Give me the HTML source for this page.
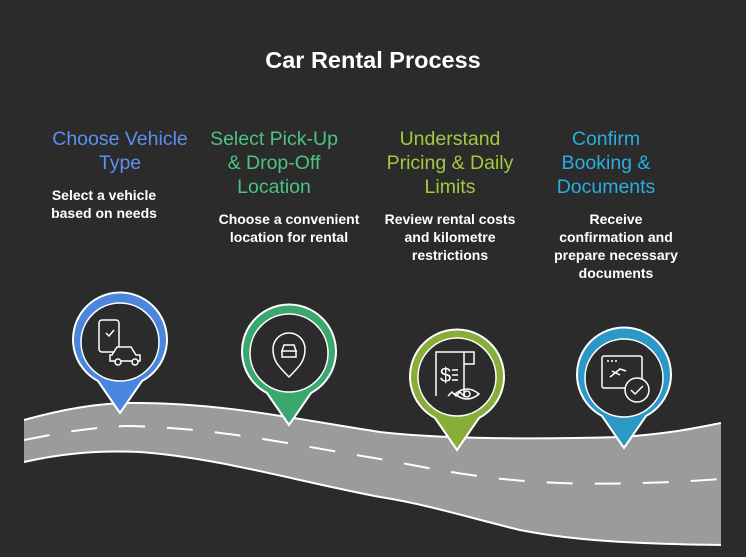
<!DOCTYPE html><html><head><style>
body{margin:0;background:#2b2b2b;width:746px;height:557px;overflow:hidden;font-family:"Liberation Sans",sans-serif}
.t{position:absolute;text-align:center;font-size:19.5px;line-height:24px}
.d{position:absolute;text-align:center;color:#fff;font-size:14px;font-weight:bold;line-height:18px}
</style></head><body>
<div style="position:absolute;left:0;top:47px;width:746px;text-align:center;color:#fff;font-size:23.5px;font-weight:bold">Car Rental Process</div>
<div class="t" style="left:30px;top:127px;width:180px;color:#5b8ff0">Choose Vehicle<br>Type</div>
<div class="d" style="left:34px;top:186px;width:140px">Select a vehicle<br>based on needs</div>
<div class="t" style="left:199px;top:127px;width:150px;color:#4cc381">Select Pick-Up<br>&amp; Drop-Off<br>Location</div>
<div class="d" style="left:204px;top:210px;width:170px">Choose a convenient<br>location for rental</div>
<div class="t" style="left:370px;top:127px;width:160px;color:#a4c840">Understand<br>Pricing &amp; Daily<br>Limits</div>
<div class="d" style="left:370px;top:210px;width:160px">Review rental costs<br>and kilometre<br>restrictions</div>
<div class="t" style="left:531px;top:127px;width:150px;color:#2aaee0">Confirm<br>Booking &amp;<br>Documents</div>
<div class="d" style="left:531px;top:210px;width:170px">Receive<br>confirmation and<br>prepare necessary<br>documents</div>
<svg width="746" height="557" style="position:absolute;left:0;top:0">
<path d="M24 420 C60 410 95 403 130 403 C220 402 300 420 380 432 C430 438 520 440 620 437 C670 434 700 427 721 423 L721 545 C650 544 580 542 520 530 C470 518 430 505 380 497 C300 482 220 458 140 452 C90 450 55 455 24 462 Z" fill="#9b9b9b"/>
<path d="M24 420 C60 410 95 403 130 403 C220 402 300 420 380 432 C430 438 520 440 620 437 C670 434 700 427 721 423" fill="none" stroke="#fff" stroke-width="2"/>
<path d="M24 462 C55 455 90 450 140 452 C220 458 300 482 380 497 C430 505 470 518 520 530 C580 542 650 544 721 545" fill="none" stroke="#fff" stroke-width="2"/>
<path d="M24 440 C60 433 90 427 130 426 C220 428 300 446 380 459 C430 468 480 480 560 483 C620 485 680 482 721 479" fill="none" stroke="#fff" stroke-width="2" stroke-dasharray="26 22"/>
<g stroke="#fff" stroke-width="2">
<path d="M120 413 L98 381 A47 47 0 1 1 142 381 Z" fill="#4a86dd"/>
<path d="M289 425 L267 393 A47 47 0 1 1 311 393 Z" fill="#3aa86e"/>
<path d="M457 450 L435 418 A47 47 0 1 1 479 418 Z" fill="#88ae3a"/>
<path d="M624 448 L602 416 A47 47 0 1 1 646 416 Z" fill="#2b98c8"/>
</g>
<g fill="#2b2b2b" stroke="#fff" stroke-width="1.5">
<circle cx="120" cy="342" r="39"/><circle cx="289" cy="353" r="39"/><circle cx="457" cy="377" r="39"/><circle cx="624" cy="378" r="39"/>
</g>
<g fill="none" stroke="#fff" stroke-width="1.5">
<rect x="99" y="320" width="20" height="32" rx="3"/><path d="M106 333l3 3 5-6"/>
<path d="M112 355 l5-8 h14 l5 8 h4 v6 h-30 v-6z" fill="#2b2b2b"/><circle cx="118" cy="362" r="3" fill="#2b2b2b"/><circle cx="135" cy="362" r="3" fill="#2b2b2b"/>
<path d="M289 377 C277 365 273 360 273 349 A16 16 0 0 1 305 349 C305 360 301 365 289 377Z"/>
<path d="M282 351 l2-6 h10 l2 6 v6 h-14z M281 351 h16"/>
<path d="M436 396 V352 h28 v44 l-4-4 -4 4 -4-4 -4 4 M464 352 h10 v12 h-10"/><text x="440" y="382" fill="#fff" stroke="none" font-size="20" font-family="Liberation Sans">$</text>
<path d="M452 370h6 M452 375h6 M452 380h6"/>
<path d="M455 394 q12-10 24 0 q-12 10 -24 0z"/><circle cx="467" cy="394" r="3"/>
<rect x="602" y="356" width="40" height="32" rx="2"/><path d="M610 377 l10-8 l6 2 M612 371 l8 4"/>
<circle cx="637" cy="390" r="12" fill="#2b2b2b"/><path d="M631 390 l4 4 8-8"/>
</g>
<g fill="#fff"><circle cx="608" cy="361" r="1"/><circle cx="612" cy="361" r="1"/><circle cx="616" cy="361" r="1"/></g>
</svg>
</body></html>
